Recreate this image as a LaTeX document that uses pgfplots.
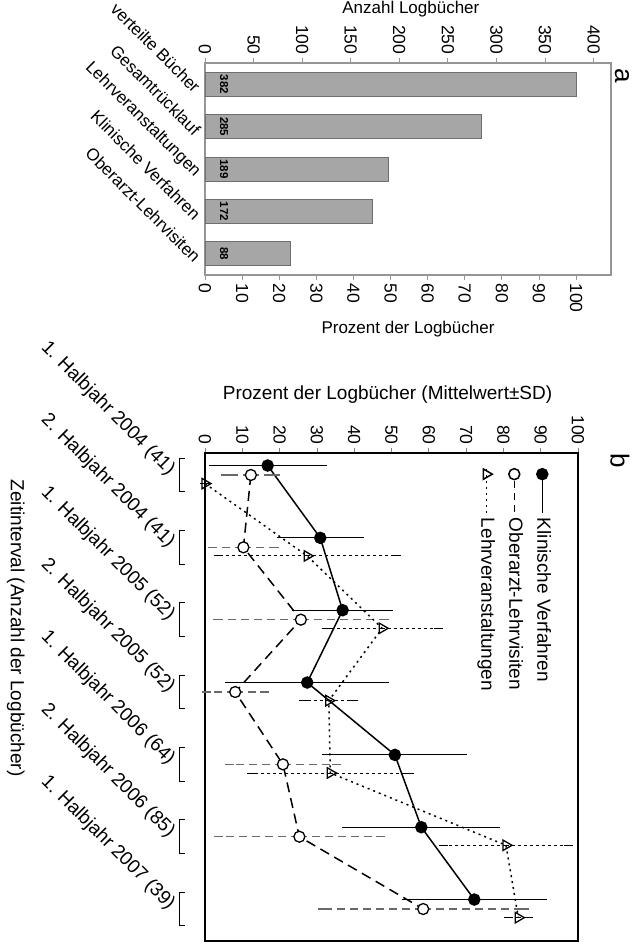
\documentclass[border=0pt]{standalone}
\usepackage{graphicx}
\usepackage{fontspec}
\setmainfont{Liberation Sans}
\usepackage{pgfplots}
\usepackage{pgfplotstable}
\pgfplotsset{compat=1.18}

\definecolor{barfill}{RGB}{166,166,166}
\definecolor{bardraw}{RGB}{110,110,110}
\definecolor{frameA}{RGB}{150,150,150}
\definecolor{errO}{RGB}{105,105,105}

\newcommand{\fa}{\fontsize{17}{20}\selectfont}
\newcommand{\fb}{\fontsize{19}{22}\selectfont}
\newcommand{\ft}{\fontsize{17.5}{20}\selectfont}

\pgfplotsset{
  myleg/.style={legend image code/.code={\draw[mark repeat=3, mark phase=2, ##1] plot coordinates {(0pt,0pt) (5pt,0pt) (44pt,0pt)};}},
}

\pgfplotstableread{
x count ly
1 382 19.6
2 285 19.6
3 189 19.6
4 172 19.6
5 88 19.6
}\bartable

\pgfplotstableread{
x y e
0.869 16.8 14.6
1.869 30.9 10.5
2.869 36.9 12.3
3.869 27.4 20.8
4.869 50.9 18.2
5.869 58.0 20.0
6.869 72.2 18.3
}\klin
\pgfplotstableread{
x y e
1 12.3 6.7
2 10.3 8.2
3 25.7 22.4
4 8.1 7.8
5 20.9 14.3
6 25.3 21.8
7 58.5 27.1
}\ober
\pgfplotstableread{
x y e
1.119 0.0 0.0
2.119 27.4 23.9
3.119 47.5 15.0
4.119 33.2 6.7
5.119 33.6 21.2
6.119 80.7 16.8
7.119 84.0 2.7
}\lehr

\begin{document}
\rotatebox{-90}{%
\begin{tikzpicture}
\useasboundingbox (0pt,0pt) rectangle (945pt,634pt);

% ---------- panel a : counts (left axis) ----------
\begin{axis}[
  at={(63pt,205pt)}, anchor=south west,
  scale only axis, width=212pt, height=406pt,
  xmin=0.5, xmax=5.5, ymin=0, ymax=418,
  /pgf/number format/assume math mode=true,
  axis line style={draw=frameA, line width=1.2pt},
  ytick={0,50,...,400}, ytick pos=left,
  tick align=outside, major tick length=5pt,
  y tick style={draw=frameA, line width=0.8pt},
  yticklabel style={font=\ft},
  xtick={1,2,3,4,5},
  xticklabels={verteilte Bücher, Gesamtrücklauf, Lehrveranstaltungen, Klinische Verfahren, Oberarzt-Lehrvisiten},
  x tick style={draw=none},
  xticklabel style={xshift=8pt, rotate=45, anchor=east, font=\fa},
  ylabel={Anzahl Logbücher},
  ylabel style={at={(axis description cs:-0.2547,0.507)}, anchor=center, font=\fa},
]
\addplot[ybar, bar width=24pt, fill=barfill, draw=bardraw, line width=0.8pt]
  table[x=x, y=count] {\bartable};
\addplot[draw=none, mark=none, nodes near coords, point meta=explicit,
  nodes near coords style={anchor=center, font=\fontsize{11.5}{11.5}\selectfont\bfseries}]
  table[x=x, y=ly, meta=count] {\bartable};
\end{axis}

% ---------- panel a : percent (right axis) ----------
\begin{axis}[
  at={(63pt,205pt)}, anchor=south west,
  scale only axis, width=212pt, height=406pt,
  xmin=0.5, xmax=5.5, ymin=0, ymax=109.42,
  /pgf/number format/assume math mode=true,
  axis y line*=right, hide x axis,
  y axis line style={draw=frameA, line width=1.2pt},
  ytick={0,10,...,100}, tick align=outside, major tick length=5pt,
  y tick style={draw=frameA, line width=0.8pt},
  yticklabel style={font=\ft},
  ylabel={Prozent der Logbücher},
  ylabel style={at={(axis description cs:1.255,0.5)}, anchor=center, font=\fa},
]
\end{axis}

% ---------- panel b ----------
\begin{axis}[
  at={(453pt,205pt)}, anchor=south west,
  scale only axis, width=488pt, height=373pt,
  xmin=0.696, xmax=7.442, ymin=0, ymax=100,
  clip=false,
  /pgf/number format/assume math mode=true,
  axis line style={line width=1.5pt},
  ytick={0,10,...,100}, ytick pos=left,
  tick align=outside, major tick length=5pt,
  y tick style={line width=0.8pt},
  yticklabel style={font=\ft},
  xtick={1,...,7},
  xticklabels={1. Halbjahr 2004 (41), 2. Halbjahr 2004 (41), 1. Halbjahr 2005 (52), 2. Halbjahr 2005 (52), 1. Halbjahr 2006 (64), 2. Halbjahr 2006 (85), 1. Halbjahr 2007 (39)},
  x tick style={draw=none},
  xticklabel style={rotate=45, anchor=east, font=\fb},
  xticklabel shift=26pt,
  ylabel={Prozent der Logbücher (Mittelwert±SD)},
  ylabel style={at={(axis description cs:-0.119,0.4895)}, anchor=center, font=\fb},
  xlabel={Zeitinterval (Anzahl der Logbücher)},
  xlabel style={at={(axis description cs:0.359,-0.507)}, anchor=center, font=\fb},
  legend style={at={(axis description cs:0.025,0.945)}, anchor=north west,
    draw=none, fill=none, font=\fb, row sep=2pt,
    nodes={inner sep=4pt, text height=14pt, text depth=4pt}},
  legend cell align=left,
]
\addlegendimage{myleg, black, line width=1.5pt, mark=*, mark size=5.5pt, mark options={solid, fill=black}}
\addlegendentry{\fb Klinische Verfahren}
\addlegendimage{myleg, black, line width=1.5pt, dash pattern=on 7pt off 5pt, mark=*, mark size=5.5pt, mark options={solid, fill=white}}
\addlegendentry{\fb Oberarzt-Lehrvisiten}
\addlegendimage{myleg, black, line width=1.5pt, dash pattern=on 2pt off 4pt, mark=triangle, mark size=6pt, mark options={solid, fill=white}}
\addlegendentry{\fb Lehrveranstaltungen}

\pgfplotsinvokeforeach{1,...,7}{
  \draw[line width=1pt] (axis cs:#1-0.231,-5.3) -- (axis cs:#1-0.231,-6.9) -- (axis cs:#1+0.231,-6.9) -- (axis cs:#1+0.231,-5.3);
}

\addplot[forget plot, black, line width=1.5pt, mark=*, mark size=5.5pt, mark options={solid, fill=black},
  error bars/.cd, y dir=both, y explicit,
  error bar style={line width=0.9pt, solid, black},
  error mark options={mark size=4.5pt, line width=0.9pt, black}]
  table[x=x, y=y, y error=e] {\klin};
\addplot[forget plot, black, line width=1.5pt, dash pattern=on 10pt off 6pt, mark=*, mark size=5.5pt,
  mark options={solid, fill=white, line width=1.3pt},
  error bars/.cd, y dir=both, y explicit,
  error bar style={line width=1.1pt, errO, dash pattern=on 8pt off 5pt},
  error mark options={solid, mark size=4.5pt, line width=1.1pt, errO}]
  table[x=x, y=y, y error=e] {\ober};
\addplot[forget plot, black, line width=1.5pt, dash pattern=on 2pt off 4pt, mark=triangle, mark size=6pt,
  mark options={solid, fill=white, line width=1.3pt},
  error bars/.cd, y dir=both, y explicit,
  error bar style={line width=0.9pt, black, dash pattern=on 3pt off 3pt},
  error mark options={solid, mark size=4.5pt, line width=0.9pt, black}]
  table[x=x, y=y, y error=e] {\lehr};
\end{axis}

\node[font=\fontsize{26}{26}\selectfont, anchor=center] at (76pt,622pt) {a};
\node[font=\fontsize{26}{26}\selectfont, anchor=center] at (461pt,620pt) {b};
\end{tikzpicture}%
}
\end{document}
